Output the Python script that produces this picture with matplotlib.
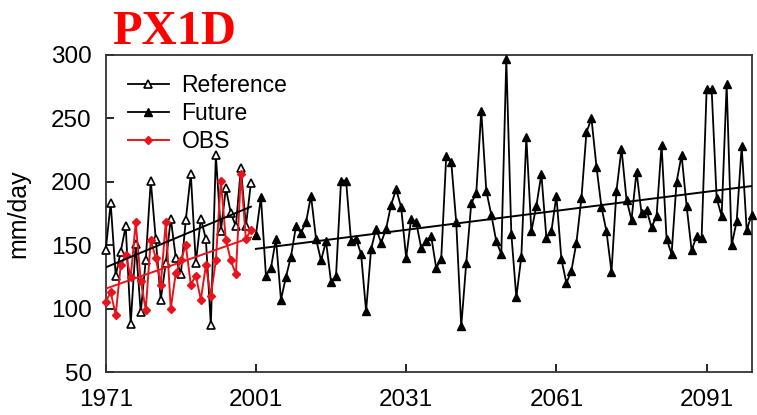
import matplotlib
matplotlib.use("Agg")
import matplotlib.pyplot as plt
import numpy as np

plt.rcParams['font.family'] = ['Liberation Sans', 'DejaVu Sans']

# annual maximum 1-day precipitation (mm/day)
ref_years = np.arange(1971, 2001)
ref_vals = [146, 183, 126, 145, 165, 88, 151, 97, 138, 201,
            155, 107, 136, 171, 140, 127, 170, 206, 136, 171,
            155, 87, 221, 161, 195, 175, 165, 211, 165, 199]

obs_vals = [105, 113, 95, 134, 142, 125, 168, 122, 99, 154,
            140, 119, 168, 100, 128, 138, 150, 119, 126, 107,
            134, 110, 138, 201, 154, 138, 127, 206, 155, 162]

fut_years = np.arange(2001, 2101)
fut_vals = [158, 188, 126, 132, 155, 107, 125, 141, 165, 160,
            168, 189, 155, 138, 153, 121, 126, 201, 201, 153,
            155, 143, 98, 147, 163, 152, 163, 182, 194, 180,
            140, 171, 168, 148, 153, 157, 132, 139, 220, 216,
            168, 86, 136, 183, 191, 256, 193, 174, 153, 143,
            297, 159, 109, 141, 235, 161, 181, 206, 156, 161,
            189, 139, 120, 130, 152, 187, 239, 250, 212, 180,
            161, 129, 193, 226, 186, 170, 208, 175, 178, 164,
            173, 229, 155, 143, 200, 221, 181, 146, 157, 156,
            273, 273, 187, 173, 277, 150, 169, 228, 162, 174]

red = '#e8141c'

fig = plt.figure(figsize=(7.57, 4.15), dpi=100)
ax = fig.add_axes([0.1396, 0.1036, 0.8534, 0.7639])

ax.plot(ref_years, ref_vals, color='black', lw=1.3, marker='^', ms=5.5,
        mfc='white', mec='black', mew=1.2, label='Reference', clip_on=False, zorder=3)
ax.plot(fut_years, fut_vals, color='black', lw=1.3, marker='^', ms=5.5,
        mfc='black', mec='black', label='Future', clip_on=False, zorder=3)
ax.plot(ref_years, obs_vals, color=red, lw=1.4, marker='D', ms=4.5,
        mfc=red, mec=red, label='OBS', clip_on=False, zorder=4)

# linear trends
for yrs, vals, col in [(ref_years, ref_vals, 'black'),
                       (fut_years, fut_vals, 'black'),
                       (ref_years, obs_vals, red)]:
    k, b = np.polyfit(yrs, vals, 1)
    ax.plot(yrs, k * yrs + b, color=col, lw=1.4, zorder=5)

ax.set_xlim(1971, 2100)
ax.set_ylim(50, 300)
ax.set_xticks([1971, 2001, 2031, 2061, 2091])
ax.set_yticks(np.arange(50, 301, 50))
ax.tick_params(direction='in', length=6, width=1.2, labelsize=17.5)
ax.tick_params(axis='x', pad=12)
ax.tick_params(axis='y', pad=10)
for s in ax.spines.values():
    s.set_linewidth(1.3)
    s.set_color('#333333')
ax.set_ylabel('mm/day', fontsize=18, labelpad=15)

leg = ax.legend(loc='upper left', bbox_to_anchor=(0.034, 0.94), frameon=False,
                fontsize=16.5, handlelength=1.8, handletextpad=0.55,
                labelspacing=0.22, borderpad=0, borderaxespad=0)

fig.text(0.148, 0.894, 'PX1D', color='red', fontsize=35, fontweight='bold',
         family='Liberation Serif', va='baseline', ha='left')

fig.savefig('out.png', dpi=100)
